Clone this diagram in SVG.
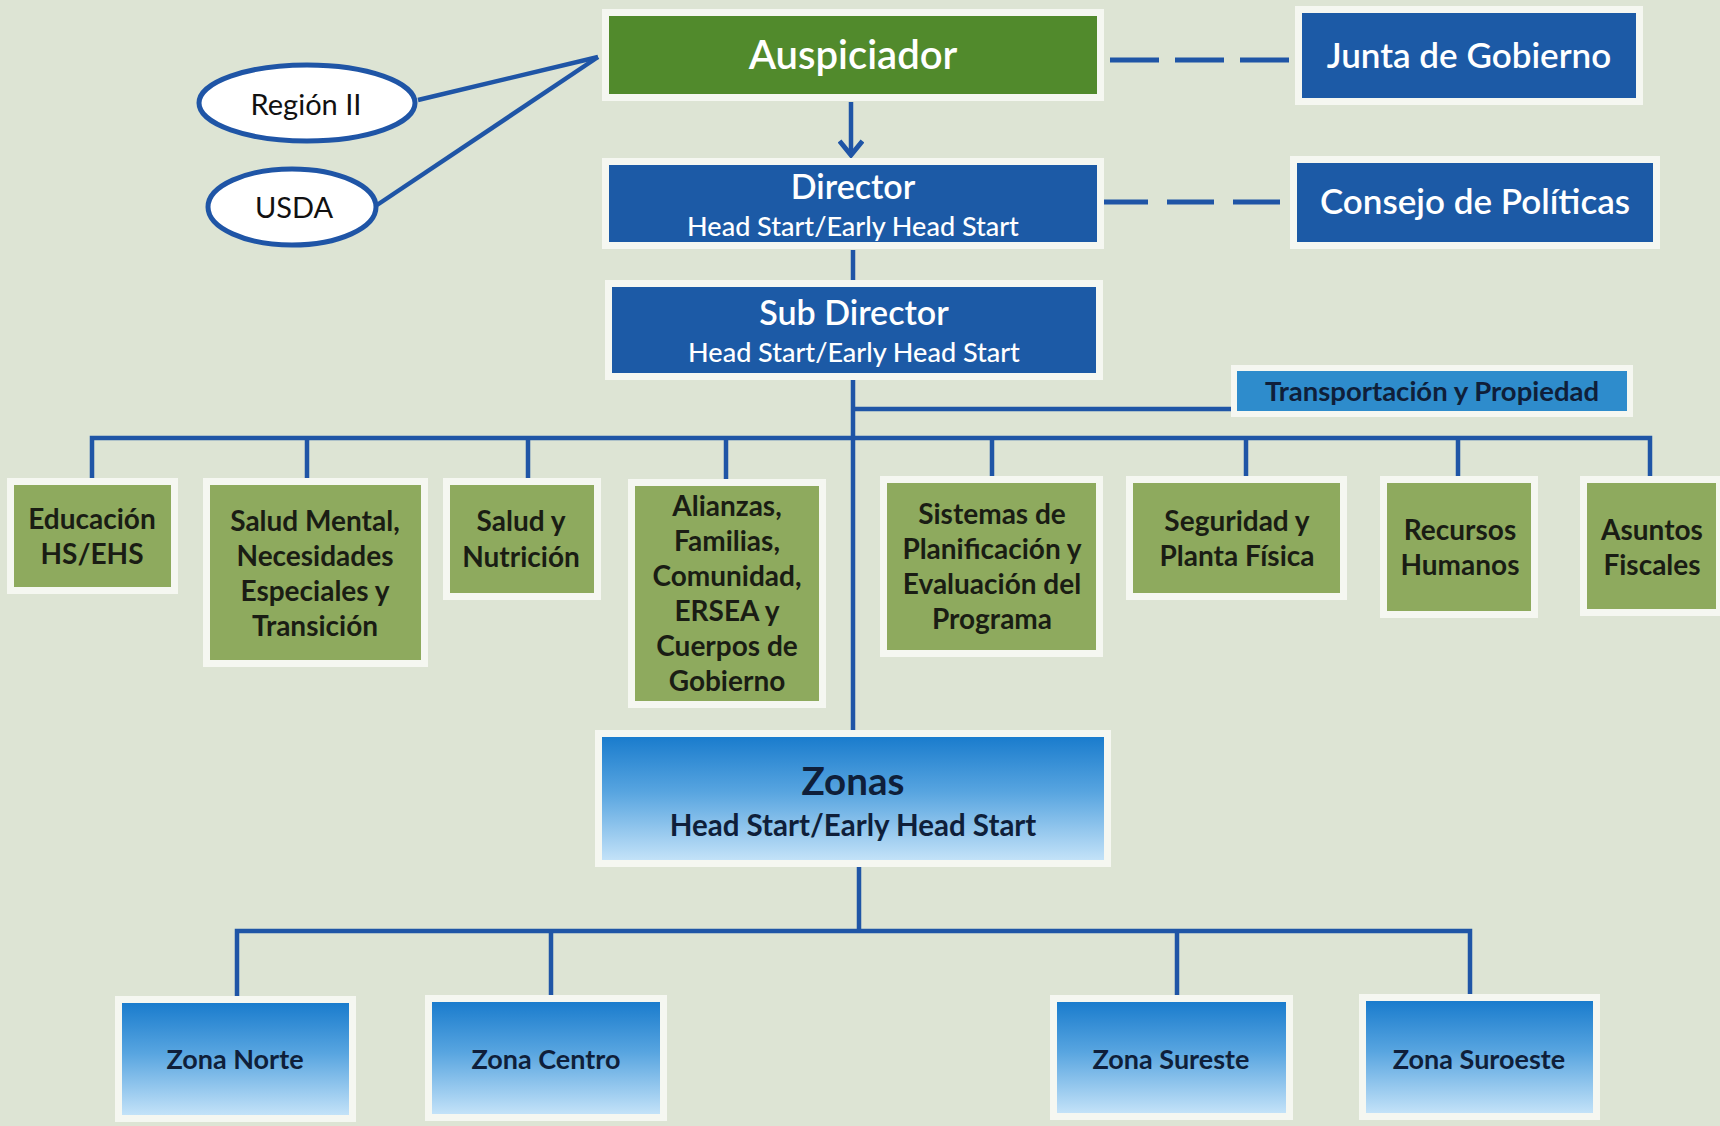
<svg xmlns="http://www.w3.org/2000/svg" width="1720" height="1126" viewBox="0 0 1720 1126">
<defs>
<linearGradient id="zg" x1="0" y1="0" x2="0" y2="1">
<stop offset="0" stop-color="#1a7ccd"/>
<stop offset="0.45" stop-color="#58a5e0"/>
<stop offset="1" stop-color="#c3e2f8"/>
</linearGradient>
<marker id="arr" viewBox="0 0 20 26" refX="17" refY="13" markerWidth="20" markerHeight="26" markerUnits="userSpaceOnUse" orient="auto">
<path d="M3,1.5 L17,13 L3,24.5" fill="none" stroke="#1f55a6" stroke-width="5"/>
</marker>
<style>
text{font-family:Lato,"Open Sans","Liberation Sans",sans-serif;text-anchor:middle}
.frame{fill:#f5f7f1}
.blue{fill:#1c5aa6}
.green{fill:#8eaa5e}
.dgreen{fill:#518a2c}
.zone{fill:url(#zg)}
.tb{fill:#2e8ccc}
.wt{fill:#ffffff;font-weight:600}
.ws{fill:#ffffff;font-weight:500}
.gt{fill:#1a1d14;font-weight:700;font-size:28px}
.zt{fill:#0f1f3a;font-weight:700}
.conn{stroke:#1f55a6;stroke-width:4.5;fill:none}
.dash{stroke:#1f55a6;stroke-width:5;fill:none}
.ell{fill:#ffffff;stroke:#1f55a6;stroke-width:5}
.et{fill:#111;font-weight:400;font-size:29px}
</style>
</defs>
<rect x="0" y="0" width="1720" height="1126" fill="#dde4d4"/>

<g id="connectors">
<line class="conn" x1="418" y1="100" x2="598" y2="57"/>
<line class="conn" x1="377" y1="205" x2="598" y2="57"/>
<line class="dash" x1="1110" y1="60" x2="1290" y2="60" stroke-dasharray="49 16"/>
<line class="dash" x1="1101" y1="202" x2="1282" y2="202" stroke-dasharray="47 19"/>
<line class="conn" x1="851" y1="102" x2="851" y2="155" marker-end="url(#arr)"/>
<line class="conn" x1="853" y1="250" x2="853" y2="280"/>
<line class="conn" x1="853" y1="373" x2="853" y2="730"/>
<line class="conn" x1="853" y1="409" x2="1232" y2="409"/>
<polyline class="conn" points="92,479 92,438 1650,438 1650,478"/>
<line class="conn" x1="307" y1="438" x2="307" y2="479"/>
<line class="conn" x1="528" y1="438" x2="528" y2="479"/>
<line class="conn" x1="726" y1="438" x2="726" y2="480"/>
<line class="conn" x1="992" y1="438" x2="992" y2="477"/>
<line class="conn" x1="1246" y1="438" x2="1246" y2="477"/>
<line class="conn" x1="1458" y1="438" x2="1458" y2="477"/>
<line class="conn" x1="859" y1="866" x2="859" y2="931"/>
<polyline class="conn" points="237,997 237,931 1470,931 1470,995"/>
<line class="conn" x1="551" y1="931" x2="551" y2="996"/>
<line class="conn" x1="1177" y1="931" x2="1177" y2="996"/>
</g>

<g id="region-ii">
<ellipse class="ell" cx="307" cy="103" rx="108" ry="38"/>
<text class="et" x="306" y="115">Región II</text>
</g>
<g id="usda">
<ellipse class="ell" cx="292" cy="207" rx="84" ry="38"/>
<text class="et" x="294" y="218" font-size="27">USDA</text>
</g>

<g id="auspiciador">
<rect class="frame" x="602" y="9" width="502" height="92"/>
<rect class="dgreen" x="609" y="16" width="488" height="78"/>
<text class="wt" x="853" y="69" font-size="40" font-weight="700">Auspiciador</text>
</g>

<g id="junta">
<rect class="frame" x="1295" y="6" width="348" height="99"/>
<rect class="blue" x="1302" y="13" width="334" height="85"/>
<text class="wt" x="1469" y="68" font-size="35">Junta de Gobierno</text>
</g>

<g id="director">
<rect class="frame" x="602" y="158" width="502" height="91"/>
<rect class="blue" x="609" y="165" width="488" height="77"/>
<text class="wt" x="853" y="199" font-size="34">Director</text>
<text class="ws" x="853" y="236" font-size="27">Head Start/Early Head Start</text>
</g>

<g id="consejo">
<rect class="frame" x="1290" y="156" width="370" height="93"/>
<rect class="blue" x="1297" y="163" width="356" height="79"/>
<text class="wt" x="1475" y="214" font-size="35">Consejo de Políticas</text>
</g>

<g id="subdirector">
<rect class="frame" x="605" y="280" width="498" height="100"/>
<rect class="blue" x="612" y="287" width="484" height="86"/>
<text class="wt" x="854" y="325" font-size="34">Sub Director</text>
<text class="ws" x="854" y="362" font-size="27">Head Start/Early Head Start</text>
</g>

<g id="transportacion">
<rect class="frame" x="1231" y="365" width="402" height="52"/>
<rect class="tb" x="1237" y="371" width="390" height="40"/>
<text class="zt" x="1432" y="401" font-size="27.5">Transportación y Propiedad</text>
</g>

<g id="educacion">
<rect class="frame" x="7" y="478" width="171" height="116"/>
<rect class="green" x="14" y="485" width="157" height="102"/>
<text class="gt" x="92" y="529">Educación</text>
<text class="gt" x="92" y="564">HS/EHS</text>
</g>

<g id="salud-mental">
<rect class="frame" x="203" y="478" width="225" height="189"/>
<rect class="green" x="210" y="485" width="211" height="175"/>
<text class="gt" x="315" y="531">Salud Mental,</text>
<text class="gt" x="315" y="566">Necesidades</text>
<text class="gt" x="315" y="601">Especiales y</text>
<text class="gt" x="315" y="636">Transición</text>
</g>

<g id="salud-nutricion">
<rect class="frame" x="443" y="478" width="158" height="122"/>
<rect class="green" x="450" y="485" width="144" height="108"/>
<text class="gt" x="521" y="531">Salud y</text>
<text class="gt" x="521" y="567">Nutrición</text>
</g>

<g id="alianzas">
<rect class="frame" x="628" y="479" width="198" height="229"/>
<rect class="green" x="635" y="486" width="184" height="215"/>
<text class="gt" x="727" y="516">Alianzas,</text>
<text class="gt" x="727" y="551">Familias,</text>
<text class="gt" x="727" y="586">Comunidad,</text>
<text class="gt" x="727" y="621">ERSEA y</text>
<text class="gt" x="727" y="656">Cuerpos de</text>
<text class="gt" x="727" y="691">Gobierno</text>
</g>

<g id="sistemas">
<rect class="frame" x="880" y="476" width="223" height="181"/>
<rect class="green" x="887" y="483" width="209" height="167"/>
<text class="gt" x="992" y="524">Sistemas de</text>
<text class="gt" x="992" y="559">Planificación y</text>
<text class="gt" x="992" y="594">Evaluación del</text>
<text class="gt" x="992" y="629">Programa</text>
</g>

<g id="seguridad">
<rect class="frame" x="1126" y="476" width="221" height="124"/>
<rect class="green" x="1133" y="483" width="207" height="110"/>
<text class="gt" x="1237" y="531">Seguridad y</text>
<text class="gt" x="1237" y="566">Planta Física</text>
</g>

<g id="recursos">
<rect class="frame" x="1380" y="476" width="158" height="142"/>
<rect class="green" x="1387" y="483" width="144" height="128"/>
<text class="gt" x="1460" y="540">Recursos</text>
<text class="gt" x="1460" y="575">Humanos</text>
</g>

<g id="asuntos">
<rect class="frame" x="1580" y="476" width="143" height="140"/>
<rect class="green" x="1587" y="483" width="129" height="126"/>
<text class="gt" x="1652" y="540">Asuntos</text>
<text class="gt" x="1652" y="575">Fiscales</text>
</g>

<g id="zonas">
<rect class="frame" x="595" y="730" width="516" height="137"/>
<rect class="zone" x="602" y="737" width="502" height="123"/>
<text class="zt" x="853" y="795" font-size="38.5">Zonas</text>
<text class="zt" x="853" y="836" font-size="29.5">Head Start/Early Head Start</text>
</g>

<g id="zona-norte">
<rect class="frame" x="115" y="996" width="241" height="126"/>
<rect class="zone" x="122" y="1003" width="227" height="112"/>
<text class="zt" x="235" y="1069" font-size="27">Zona Norte</text>
</g>

<g id="zona-centro">
<rect class="frame" x="425" y="995" width="242" height="126"/>
<rect class="zone" x="432" y="1002" width="228" height="112"/>
<text class="zt" x="546" y="1069" font-size="27">Zona Centro</text>
</g>

<g id="zona-sureste">
<rect class="frame" x="1050" y="995" width="243" height="125"/>
<rect class="zone" x="1057" y="1002" width="229" height="111"/>
<text class="zt" x="1171" y="1069" font-size="27">Zona Sureste</text>
</g>

<g id="zona-suroeste">
<rect class="frame" x="1359" y="994" width="241" height="126"/>
<rect class="zone" x="1366" y="1001" width="227" height="112"/>
<text class="zt" x="1479" y="1069" font-size="27">Zona Suroeste</text>
</g>
</svg>
